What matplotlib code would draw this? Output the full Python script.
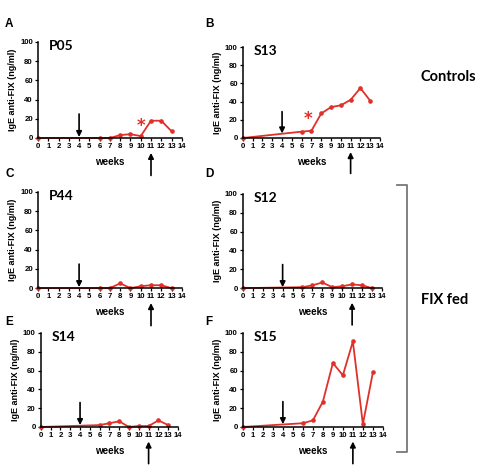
import matplotlib
matplotlib.use("Agg")
import matplotlib.pyplot as plt

weeks = [0, 6, 7, 8, 9, 10, 11, 12, 13]

p05 = [0, 0, 0, 3, 4, 2, 18, 18, 7]
s13 = [0, 7, 8, 27, 34, 36, 42, 55, 41]
p44 = [0, 0, 0, 5, 0, 2, 3, 3, 0]
s12 = [0, 1, 3, 6, 1, 2, 4, 3, 0]
s14 = [0, 2, 4, 6, 0, 1, 1, 7, 2]
s15 = [0, 4, 7, 27, 68, 55, 91, 3, 58]

names = ["P05", "S13", "P44", "S12", "S14", "S15"]
letters = ["A", "B", "C", "D", "E", "F"]
series = [p05, s13, p44, s12, s14, s15]
# (week, value) of the red asterisk, None if absent
stars = [(10, 13), (6.7, 21), None, None, None, None]
# y value at which the down arrow (week 4) ends
arrow_end = [1, 5, 1, 1, 2, 3]

# axes boxes in figure fraction: left, bottom, width, height
boxes = [
    (0.079, 0.7045, 0.299, 0.2056),
    (0.505, 0.7045, 0.285, 0.1945),
    (0.079, 0.383, 0.299, 0.206),
    (0.505, 0.383, 0.289, 0.202),
    (0.085, 0.0857, 0.285, 0.2013),
    (0.505, 0.0857, 0.291, 0.2013),
]

red = "#e0302a"
tickfont = dict(family="Liberation Sans", weight="bold", size=5.6)

fig = plt.figure(figsize=(4.81, 4.67), dpi=100)

for i, (name, vals) in enumerate(zip(names, series)):
    ax = fig.add_axes(boxes[i])
    ax.plot(weeks, vals, color=red, lw=1.3, marker="o", ms=2.3, clip_on=False, zorder=2)
    ax.set_xlim(0, 14)
    ax.set_ylim(0, 100)
    ax.set_xticks(range(15))
    ax.set_yticks(range(0, 101, 20))
    ax.set_xticklabels([str(k) for k in range(15)], fontdict=tickfont)
    ax.set_yticklabels([str(k) for k in range(0, 101, 20)], fontdict=tickfont)
    ax.tick_params(length=2.5, width=0.9, pad=1.2, direction="out")
    for s in ["top", "right"]:
        ax.spines[s].set_visible(False)
    for s in ["left", "bottom"]:
        ax.spines[s].set_linewidth(1.1)
        ax.spines[s].set_zorder(3)
    ax.set_xlabel("weeks", family="Liberation Sans", weight="bold", size=7, labelpad=5)
    ax.set_ylabel("IgE anti-FIX (ng/ml)", family="Liberation Sans", weight="bold",
                  size=6.5, labelpad=2)
    ax.text(1.1, 96, name, family="Lato", weight="bold", size=10, va="center")
    ax.annotate("", xy=(4, arrow_end[i]), xytext=(4, arrow_end[i] + 24),
                arrowprops=dict(arrowstyle="-|>", color="black", lw=1.2,
                                mutation_scale=8, shrinkA=0, shrinkB=0))
    ax.annotate("", xy=(11, -0.155), xytext=(11, -0.39),
                xycoords=("data", "axes fraction"), textcoords=("data", "axes fraction"),
                arrowprops=dict(arrowstyle="-|>", color="black", lw=1.2,
                                mutation_scale=8, shrinkA=0, shrinkB=0))
    if stars[i] is not None:
        ax.text(stars[i][0], stars[i][1], "*", color=red, size=12, weight="bold",
                ha="center", va="center")
    lx = 5 / 481 if i % 2 == 0 else 205 / 481
    ly = [440, 440, 290, 290, 142, 142][i] / 467
    fig.text(lx, ly, letters[i], family="Liberation Sans", weight="bold", size=8.5)

fig.text(421 / 481, 1 - 77 / 467, "Controls", family="Lato", weight="bold", size=10.5,
         va="center")
fig.text(421 / 481, 1 - 300 / 467, "FIX fed", family="Lato", weight="bold", size=10.5,
         va="center")

# bracket around the FIX fed panels
bx = [397 / 481, 407 / 481, 407 / 481, 397 / 481]
by = [1 - 185 / 467, 1 - 185 / 467, 1 - 452 / 467, 1 - 452 / 467]
fig.add_artist(plt.Line2D(bx, by, color="#777777", lw=1.3, transform=fig.transFigure))

fig.savefig("out.png", dpi=100)
